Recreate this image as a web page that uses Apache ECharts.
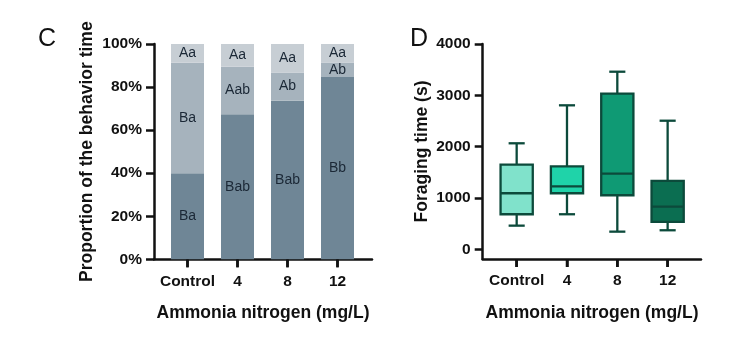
<!DOCTYPE html>
<html>
<head>
<meta charset="utf-8">
<script src="https://cdn.jsdelivr.net/npm/echarts@6/dist/echarts.min.js"></script>
<style>
html,body{margin:0;padding:0;background:#fff;}
#c{width:750px;height:355px;}
</style>
</head>
<body>
<div id="c"></div>
<script>
// ---- Panel C data (stacked proportions, %)
const categories = ['Control', '4', '8', '12'];
const propBottom = [40.0, 67.4, 73.6, 84.7];
const propMiddle = [51.3, 22.0, 13.2, 6.7];
const propTop = [8.7, 10.6, 13.2, 8.6];
const labBottom = ['Ba', 'Bab', 'Bab', 'Bb'];
const labMiddle = ['Ba', 'Aab', 'Ab', 'Ab'];
const labTop = ['Aa', 'Aa', 'Aa', 'Aa'];

// ---- Panel D data (foraging time box plots, s): min, Q1, median, Q3, max
const boxMin = [460, 682, 343, 370];
const boxQ1 = [682, 1091, 1052, 532];
const boxMedian = [1091, 1227, 1473, 830];
const boxQ3 = [1648, 1617, 3031, 1331];
const boxMax = [2065, 2805, 3460, 2505];
const timeTicks = [0, 1000, 2000, 3000, 4000];

const xTitle = 'Ammonia nitrogen (mg/L)';
const barColors = ['#6f8696', '#a6b3bd', '#c7ced4'];
const boxColors = ['#80e2cb', '#1fd3a9', '#0f9a74', '#0b6e51'];
const boxStroke = '#0c4a3b';
const FONT = 'Liberation Sans, Arial, sans-serif';

const catIdx = categories.map((c, i) => i);
const yMinC = 0;
const yMinD = -190;

const chart = echarts.init(document.getElementById('c'), null, {renderer: 'canvas'});

const ls = () => ({color: '#111', width: 2.5});
const tickLabel = () => ({color: '#111', fontFamily: FONT, fontWeight: 'bold', fontSize: 15.5});
const nameStyle = () => ({color: '#111', fontFamily: FONT, fontWeight: 'bold', fontSize: 17.5});

function barLabel(arr) {
  return {
    show: true, position: 'inside', color: '#1b2836', fontFamily: FONT, fontSize: 14,
    formatter: p => arr[p.dataIndex]
  };
}
// value first, category index second (so the stack runs along the value axis)
function pairs(arr) { return arr.map((v, i) => [v, catIdx[i]]); }

const boxData = categories.map((c, i) => [catIdx[i], boxMin[i], boxQ1[i], boxMedian[i], boxQ3[i], boxMax[i]]);

function catX(gi, min, max) {
  return {
    gridIndex: gi, type: 'value', min: min, max: max,
    axisLine: {show: true, onZero: false, lineStyle: ls()},
    axisTick: {show: true, inside: false, length: 8, lineStyle: ls(), customValues: catIdx},
    axisLabel: Object.assign({margin: 14, customValues: catIdx, formatter: v => categories[Math.round(v)]}, tickLabel()),
    splitLine: {show: false}
  };
}

// category tick marks below the x axis line
function tickSeries(xi, yMin) {
  return {
    type: 'custom', xAxisIndex: xi, yAxisIndex: xi, data: catIdx.map(i => [i, yMin]), clip: false, silent: true, z: 5,
    encode: {x: 0, y: 1},
    renderItem: function (params, api) {
      const p = api.coord([api.value(0), api.value(1)]);
      return {type: 'line', shape: {x1: p[0], y1: p[1], x2: p[0], y2: p[1] + 8}, style: {stroke: '#111', lineWidth: 2.5}};
    }
  };
}

const option = {
  animation: false,
  backgroundColor: '#fff',
  title: [
    {text: 'C', left: 33, top: 22, textStyle: {fontFamily: FONT, fontSize: 25, fontWeight: 'normal', color: '#111'}},
    {text: 'D', left: 405, top: 22, textStyle: {fontFamily: FONT, fontSize: 25, fontWeight: 'normal', color: '#111'}},
    {text: xTitle, left: 263, top: 304, textAlign: 'center', padding: 0, textStyle: nameStyle()},
    {text: xTitle, left: 592, top: 304, textAlign: 'center', padding: 0, textStyle: nameStyle()}
  ],
  grid: [
    {left: 154, width: 218, top: 44, height: 215.3},
    {left: 482.7, width: 218.3, top: 44, height: 215}
  ],
  xAxis: [catX(0, -0.67, 3.69), catX(1, -0.675, 3.663)],
  yAxis: [
    {
      gridIndex: 0, type: 'value', min: yMinC, max: 100, interval: 20,
      axisLine: {show: true, onZero: false, lineStyle: ls()},
      axisTick: {show: true, length: 8, lineStyle: ls()},
      axisLabel: Object.assign({margin: 12, formatter: '{value}%'}, tickLabel()),
      splitLine: {show: false},
      name: 'Proportion of the behavior time', nameLocation: 'middle', nameGap: 58, nameTextStyle: nameStyle()
    },
    {
      gridIndex: 1, type: 'value', min: yMinD, max: 4000,
      axisLine: {show: true, onZero: false, lineStyle: ls()},
      axisTick: {show: true, length: 8, lineStyle: ls(), customValues: timeTicks},
      axisLabel: Object.assign({margin: 12, customValues: timeTicks, formatter: v => String(v)}, tickLabel()),
      splitLine: {show: false},
      name: 'Foraging time (s)', nameLocation: 'middle', nameGap: 52, nameTextStyle: nameStyle()
    }
  ],
  series: [
    {type: 'bar', xAxisIndex: 0, yAxisIndex: 0, stack: 'p', barWidth: 33, data: pairs(propBottom),
      encode: {x: 1, y: 0}, itemStyle: {color: barColors[0]}, label: barLabel(labBottom)},
    {type: 'bar', xAxisIndex: 0, yAxisIndex: 0, stack: 'p', barWidth: 33, data: pairs(propMiddle),
      encode: {x: 1, y: 0}, itemStyle: {color: barColors[1]}, label: barLabel(labMiddle)},
    {type: 'bar', xAxisIndex: 0, yAxisIndex: 0, stack: 'p', barWidth: 33, data: pairs(propTop),
      encode: {x: 1, y: 0}, itemStyle: {color: barColors[2]}, label: barLabel(labTop)},
    {
      type: 'custom', xAxisIndex: 1, yAxisIndex: 1, data: boxData,
      encode: {x: 0, y: [1, 2, 3, 4, 5]},
      renderItem: function (params, api) {
        const x = api.value(0);
        const pMin = api.coord([x, api.value(1)]);
        const pQ1 = api.coord([x, api.value(2)]);
        const pMed = api.coord([x, api.value(3)]);
        const pQ3 = api.coord([x, api.value(4)]);
        const pMax = api.coord([x, api.value(5)]);
        const band = api.size([1, 0])[0];
        const hw = band * 0.32;
        const cw = band * 0.16;
        const cx = pMed[0];
        const st = {stroke: boxStroke, lineWidth: 2.3};
        return {
          type: 'group',
          children: [
            {type: 'line', shape: {x1: cx, y1: pQ3[1], x2: cx, y2: pMax[1]}, style: st},
            {type: 'line', shape: {x1: cx, y1: pQ1[1], x2: cx, y2: pMin[1]}, style: st},
            {type: 'line', shape: {x1: cx - cw, y1: pMax[1], x2: cx + cw, y2: pMax[1]}, style: st},
            {type: 'line', shape: {x1: cx - cw, y1: pMin[1], x2: cx + cw, y2: pMin[1]}, style: st},
            {type: 'rect', shape: {x: cx - hw, y: pQ3[1], width: 2 * hw, height: pQ1[1] - pQ3[1]},
              style: {fill: boxColors[params.dataIndex], stroke: boxStroke, lineWidth: 2.3}},
            {type: 'line', shape: {x1: cx - hw, y1: pMed[1], x2: cx + hw, y2: pMed[1]}, style: st}
          ]
        };
      }
    },
    tickSeries(0, yMinC),
    tickSeries(1, yMinD)
  ]
};
chart.setOption(option);
</script>
</body>
</html>
